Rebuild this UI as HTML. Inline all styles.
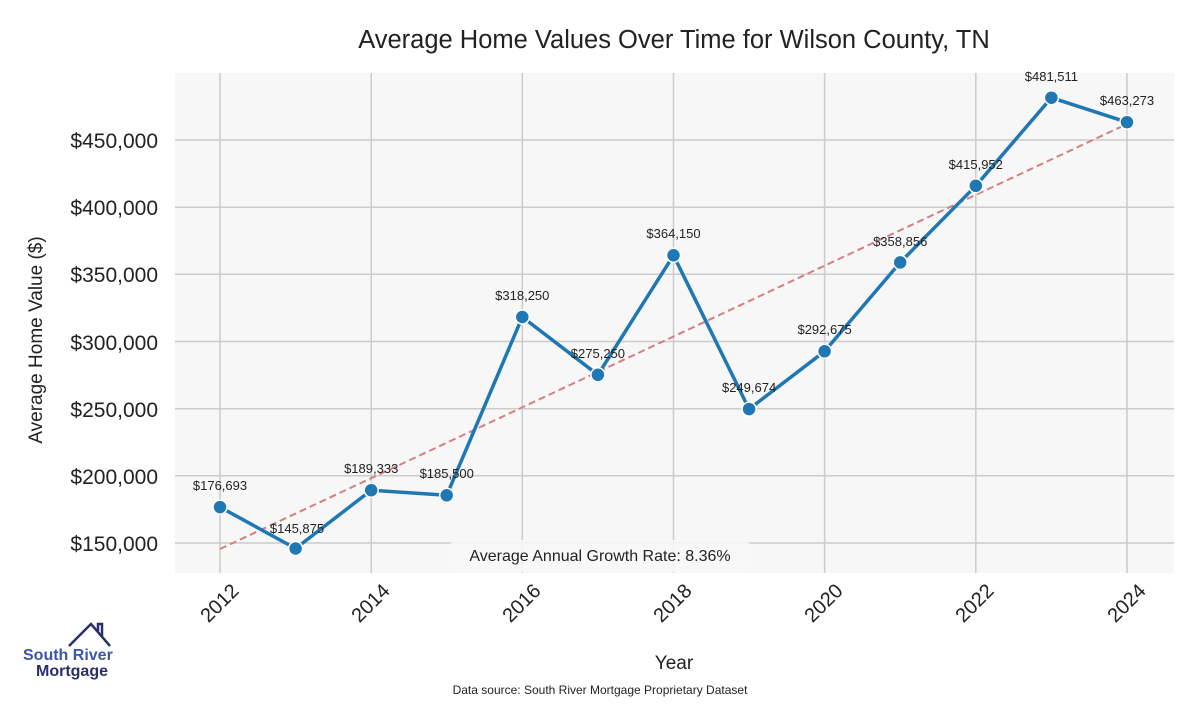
<!DOCTYPE html>
<html><head><meta charset="utf-8"><style>
body{margin:0;background:#fff;}
svg text{font-family:"Liberation Sans",sans-serif;}
</style></head><body>
<svg width="1200" height="700" xmlns="http://www.w3.org/2000/svg">
<rect x="175" y="73" width="999" height="500" fill="#f7f7f7"/>
<g stroke="#cccccc" stroke-width="1.5">
<line x1="220" y1="73" x2="220" y2="573"/><line x1="371.2" y1="73" x2="371.2" y2="573"/><line x1="522.3" y1="73" x2="522.3" y2="573"/><line x1="673.5" y1="73" x2="673.5" y2="573"/><line x1="824.6" y1="73" x2="824.6" y2="573"/><line x1="975.8" y1="73" x2="975.8" y2="573"/><line x1="1127" y1="73" x2="1127" y2="573"/>
<line x1="175" y1="543" x2="1174" y2="543"/><line x1="175" y1="475.8" x2="1174" y2="475.8"/><line x1="175" y1="408.7" x2="1174" y2="408.7"/><line x1="175" y1="341.5" x2="1174" y2="341.5"/><line x1="175" y1="274.3" x2="1174" y2="274.3"/><line x1="175" y1="207.2" x2="1174" y2="207.2"/><line x1="175" y1="140" x2="1174" y2="140"/>
</g>
<g font-size="21" fill="#222" text-anchor="end">
<text x="158" y="551">$150,000</text><text x="158" y="484">$200,000</text><text x="158" y="417">$250,000</text><text x="158" y="350">$300,000</text><text x="158" y="282">$350,000</text><text x="158" y="215">$400,000</text><text x="158" y="148">$450,000</text>
</g>
<g font-size="20" fill="#222" text-anchor="end">
<text transform="translate(240,592) rotate(-45)">2012</text>
<text transform="translate(391,592) rotate(-45)">2014</text>
<text transform="translate(542,592) rotate(-45)">2016</text>
<text transform="translate(693,592) rotate(-45)">2018</text>
<text transform="translate(844,592) rotate(-45)">2020</text>
<text transform="translate(995,592) rotate(-45)">2022</text>
<text transform="translate(1147,592) rotate(-45)">2024</text>
</g>
<line x1="220" y1="549" x2="1127" y2="124" stroke="#d47f80" stroke-width="2" stroke-dasharray="7,4"/>
<polyline fill="none" stroke="#1f77b4" stroke-width="3.5" stroke-linejoin="round" points="220,507.1 295.6,548.5 371.2,490.2 446.7,495.3 522.3,317 597.9,374.8 673.5,255.3 749.1,409.1 824.6,351.3 900.2,262.4 975.8,185.8 1051.4,97.7 1127,122.2"/>
<g fill="#1f77b4" stroke="#fff" stroke-width="1.5">
<circle cx="220" cy="507.1" r="7"/><circle cx="295.6" cy="548.5" r="7"/><circle cx="371.2" cy="490.2" r="7"/><circle cx="446.7" cy="495.3" r="7"/><circle cx="522.3" cy="317" r="7"/><circle cx="597.9" cy="374.8" r="7"/><circle cx="673.5" cy="255.3" r="7"/><circle cx="749.1" cy="409.1" r="7"/><circle cx="824.6" cy="351.3" r="7"/><circle cx="900.2" cy="262.4" r="7"/><circle cx="975.8" cy="185.8" r="7"/><circle cx="1051.4" cy="97.7" r="7"/><circle cx="1127" cy="122.2" r="7"/>
</g>
<g font-size="13" fill="#222" text-anchor="middle">
<text x="220" y="490">$176,693</text><text x="297" y="533">$145,875</text><text x="371.2" y="473">$189,333</text><text x="446.7" y="478">$185,500</text><text x="522.3" y="300">$318,250</text><text x="597.9" y="358">$275,250</text><text x="673.5" y="238">$364,150</text><text x="749.1" y="392">$249,674</text><text x="824.6" y="334">$292,675</text><text x="900.2" y="246">$358,856</text><text x="975.8" y="169">$415,952</text><text x="1051.4" y="81">$481,511</text><text x="1127" y="105">$463,273</text>
</g>
<rect x="450" y="540" width="300" height="32" rx="6" fill="#f7f7f7" fill-opacity="0.9"/>
<text x="600" y="561" font-size="16" fill="#222" text-anchor="middle">Average Annual Growth Rate: 8.36%</text>
<text x="674" y="48" font-size="25.5" fill="#222" text-anchor="middle">Average Home Values Over Time for Wilson County, TN</text>
<text transform="translate(42,340) rotate(-90)" font-size="19" fill="#222" text-anchor="middle">Average Home Value ($)</text>
<text x="674" y="669" font-size="19" fill="#222" text-anchor="middle">Year</text>
<text x="600" y="694" font-size="12" fill="#222" text-anchor="middle">Data source: South River Mortgage Proprietary Dataset</text>
<polyline fill="none" stroke="#2a2f6b" stroke-width="2.5" points="69,646 91,624 110,646"/>
<polyline fill="none" stroke="#2a2f6b" stroke-width="2.5" points="98,631 98,624 102,624 102,636"/>
<text x="23" y="660" font-size="16" font-weight="bold" fill="#3d55a8">South River</text>
<text x="36" y="676" font-size="16" font-weight="bold" fill="#2a2f6b">Mortgage</text>
</svg>
</body></html>
